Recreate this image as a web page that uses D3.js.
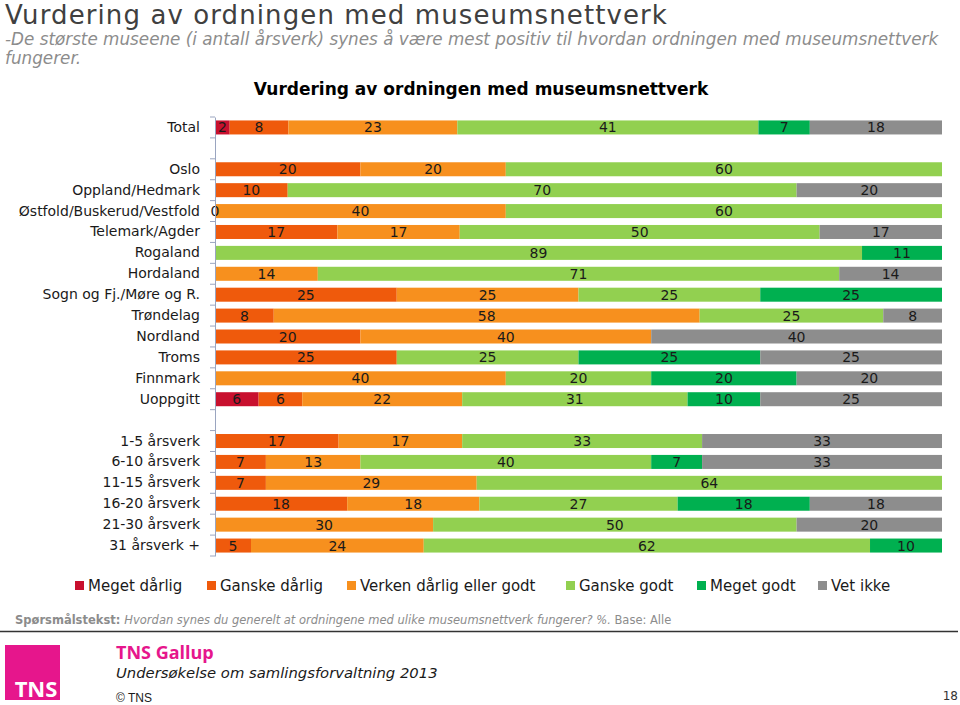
<!DOCTYPE html>
<html><head><meta charset="utf-8">
<script src="https://cdn.jsdelivr.net/npm/d3@7"></script>
<style>
body{margin:0;background:#fff;}
svg{display:block;font-family:"DejaVu Sans",Verdana,sans-serif;}
</style></head>
<body><svg id="c" width="960" height="705"></svg>
<script>
// ---- data ----
const categories = ["Total","","Oslo","Oppland/Hedmark","Østfold/Buskerud/Vestfold","Telemark/Agder","Rogaland","Hordaland","Sogn og Fj./Møre og R.","Trøndelag","Nordland","Troms","Finnmark","Uoppgitt"," ","1-5 årsverk","6-10 årsverk","11-15 årsverk","16-20 årsverk","21-30 årsverk","31 årsverk +"];
const seriesNames = ["Meget dårlig","Ganske dårlig","Verken dårlig eller godt","Ganske godt","Meget godt","Vet ikke"];
const seriesColors = ["#c8102e","#ef5a0c","#f7901e","#92d050","#00b050","#8d8d8d"];
const megetDarlig   = [2,null,null,null,null,null,null,null,null,null,null,null,null,6,null,null,null,null,null,null,null];
const ganskeDarlig  = [8,null,20,10,0,17,null,null,25,8,20,25,null,6,null,17,7,7,18,null,5];
const verken        = [23,null,20,null,40,17,null,14,25,58,40,null,40,22,null,17,13,29,18,30,24];
const ganskeGodt    = [41,null,60,70,60,50,89,71,25,25,null,25,20,31,null,33,40,64,27,50,62];
const megetGodt     = [7,null,null,null,null,null,11,null,25,null,null,25,20,10,null,null,7,null,18,null,10];
const vetIkke       = [18,null,null,20,null,17,null,14,null,8,40,25,20,25,null,33,33,null,18,20,null];
const seriesValues = [megetDarlig,ganskeDarlig,verken,ganskeGodt,megetGodt,vetIkke];

const svg = d3.select("#c");

// titles
svg.append("text").attr("x",5).attr("y",24).attr("font-size",26).attr("letter-spacing",1.1).attr("fill","#404040").text("Vurdering av ordningen med museumsnettverk");
svg.append("text").attr("x",5).attr("y",45).attr("font-size",16.8).attr("font-style","italic").attr("fill","#8c8c8c").text("-De største museene (i antall årsverk) synes å være mest positiv til hvordan ordningen med museumsnettverk");
svg.append("text").attr("x",5).attr("y",64).attr("font-size",16.8).attr("font-style","italic").attr("fill","#8c8c8c").text("fungerer.");
svg.append("text").attr("x",481).attr("y",95).attr("text-anchor","middle").attr("font-size",17).attr("font-weight","bold").attr("fill","#000").text("Vurdering av ordningen med museumsnettverk");

// build rows
const rows = categories.map((c,i)=>{
  const r = {cat:c, idx:i};
  seriesNames.forEach((s,j)=>{ r[s] = seriesValues[j][i] == null ? 0 : seriesValues[j][i]; });
  r.empty = seriesValues.every(a=>a[i]==null);
  return r;
});
const stack = d3.stack().keys(seriesNames).offset(d3.stackOffsetExpand);
const stacked = stack(rows);

const x = d3.scaleLinear().domain([0,1]).range([215,942]);
const y = d3.scaleBand().domain(d3.range(categories.length)).range([117,556]).paddingInner(0.33).paddingOuter(0.165);

// bars
stacked.forEach((layer,j)=>{
  const g = svg.append("g");
  layer.forEach((d,i)=>{
    if (rows[i].empty) return;
    const v = seriesValues[j][i];
    if (v == null) return;
    const x0 = isNaN(d[0])?0:d[0], x1 = isNaN(d[1])?0:d[1];
    g.append("rect").attr("x",x(x0)).attr("y",y(i)).attr("width",Math.max(0,x(x1)-x(x0))).attr("height",y.bandwidth()).attr("fill",seriesColors[j]);
  });
});
// labels
stacked.forEach((layer,j)=>{
  layer.forEach((d,i)=>{
    if (rows[i].empty) return;
    const v = seriesValues[j][i];
    if (v == null) return;
    const x0 = isNaN(d[0])?0:d[0], x1 = isNaN(d[1])?0:d[1];
    svg.append("text").attr("x",x((x0+x1)/2)).attr("y",y(i)+y.bandwidth()/2).attr("dy","0.36em")
      .attr("text-anchor","middle").attr("font-size",14).attr("fill","#1a1a1a").text(v);
  });
});

// axis
const yAxis = d3.axisLeft(y).tickSize(0).tickFormat(i=>categories[i].trim());
const ag = svg.append("g").attr("transform","translate(215,0)").call(yAxis);
ag.select(".domain").attr("stroke","#9aa5c0");
ag.selectAll("text").attr("font-size",14).attr("fill","#1a1a1a").attr("font-family","'DejaVu Sans',Verdana,sans-serif").attr("x",-15);
// boundary ticks
const bounds = d3.range(categories.length+1).map(i=> 117 + i*(556-117)/categories.length);
ag.selectAll("line.bt").data(bounds).enter().append("line").attr("class","bt")
  .attr("x1",-5).attr("x2",0).attr("y1",d=>d).attr("y2",d=>d).attr("stroke","#9aa5c0");

// legend
const legX = [75,207,347,566,697,818];
seriesNames.forEach((s,j)=>{
  svg.append("rect").attr("x",legX[j]).attr("y",581).attr("width",9).attr("height",9).attr("fill",seriesColors[j]);
  svg.append("text").attr("x",legX[j]+13).attr("y",591).attr("font-size",15).attr("fill","#1a1a1a").text(s);
});

// footer
const ft = svg.append("text").attr("x",15).attr("y",624).attr("font-size",11.5).attr("fill","#8c8c8c");
ft.append("tspan").attr("font-weight","bold").text("Spørsmålstekst: ");
ft.append("tspan").attr("font-style","italic").text("Hvordan synes du generelt at ordningene med ulike museumsnettverk fungerer? %.");
ft.append("tspan").text("  Base: Alle");
svg.append("line").attr("x1",0).attr("x2",958).attr("y1",631.5).attr("y2",631.5).attr("stroke","#333").attr("stroke-width",1.5);
svg.append("rect").attr("x",5).attr("y",645).attr("width",55).attr("height",55).attr("fill","#e6168c");
svg.append("text").attr("x",36).attr("y",697).attr("text-anchor","middle").attr("font-size",22).attr("font-weight","bold").attr("fill","#fff").attr("font-family","'Open Sans',sans-serif").text("TNS");
svg.append("text").attr("x",116).attr("y",659).attr("font-size",18).attr("font-weight","bold").attr("fill","#e6168c").attr("font-family","'Open Sans',sans-serif").text("TNS Gallup");
svg.append("text").attr("x",116).attr("y",678).attr("font-size",14.8).attr("font-style","italic").attr("fill","#1a1a1a").text("Undersøkelse om samlingsforvaltning 2013");
svg.append("text").attr("x",116).attr("y",702).attr("font-size",12).attr("fill","#1a1a1a").attr("font-family","Arial,'Liberation Sans',sans-serif").text("© TNS");
svg.append("text").attr("x",958).attr("y",700).attr("text-anchor","end").attr("font-size",12).attr("fill","#333").text("18");
</script></body></html>
